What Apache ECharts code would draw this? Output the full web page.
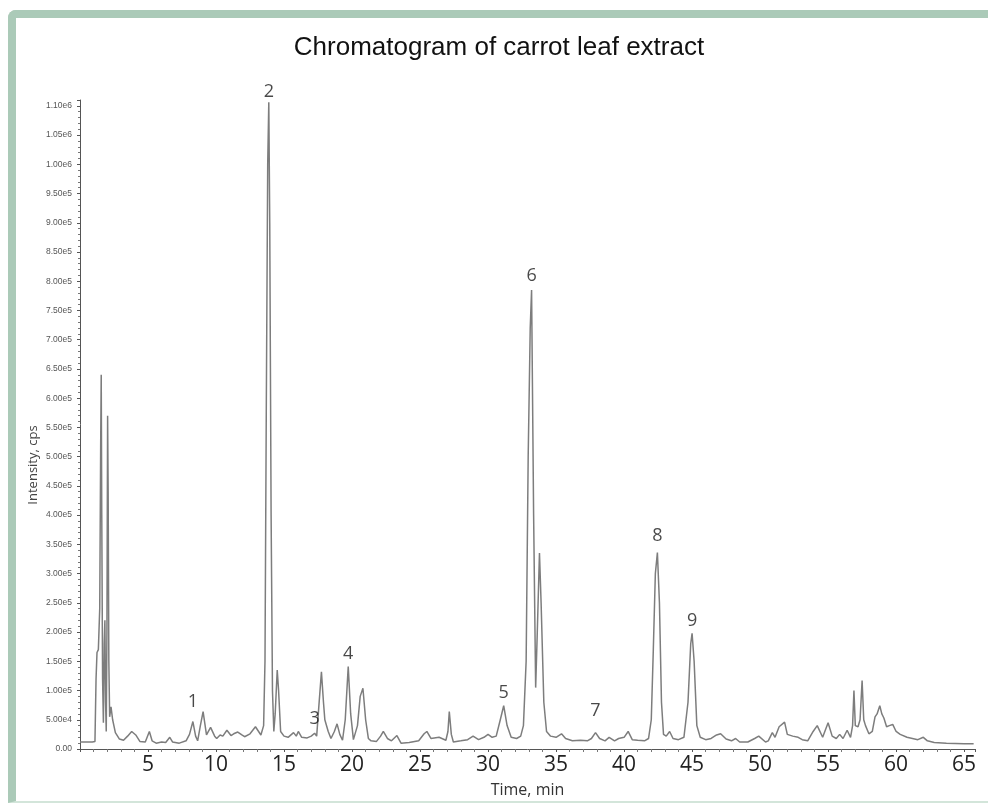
<!DOCTYPE html>
<html>
<head>
<meta charset="utf-8">
<title>Chromatogram of carrot leaf extract</title>
<script src="https://cdn.jsdelivr.net/npm/echarts@6/dist/echarts.min.js"></script>
<style>
  html, body { margin: 0; padding: 0; background: #ffffff; }
  #frame {
    position: absolute; left: 8px; top: 10px; width: 980px; height: 793px;
    border-left: 8px solid #abcab8; border-top: 8px solid #abcab8;
    border-bottom: 2px solid #d3e5da;
    border-top-left-radius: 8px; box-sizing: border-box;
  }
  #chart { position: absolute; left: 0; top: 0; width: 988px; height: 803px; }
</style>
</head>
<body>
<div id="frame"></div>
<div id="chart"></div>
<script>
// Total ion chromatogram: retention time (min) and intensity (cps)
const timeMin = [
  0.0, 0.9, 1.0, 1.1, 1.18, 1.25, 1.35, 1.45, 1.52, 1.56, 1.60, 1.66, 1.72, 1.78, 1.83, 1.88, 1.93, 1.98,
  2.03, 2.07, 2.12, 2.18, 2.28, 2.40, 2.6, 2.9, 3.2, 3.5, 3.8, 4.1, 4.4, 4.8, 5.1, 5.3, 5.6, 6.0, 6.3,
  6.6, 6.8, 7.3, 7.8, 8.05, 8.3, 8.5, 8.65, 8.85, 9.05, 9.3, 9.6, 9.9, 10.05, 10.3, 10.5, 10.8, 11.1,
  11.3, 11.6, 11.9, 12.1, 12.5, 12.9, 13.3, 13.5, 13.6, 13.7, 13.8, 13.88, 13.95, 14.05, 14.15, 14.25,
  14.35, 14.5, 14.6, 14.75, 15.0, 15.3, 15.7, 15.9, 16.05, 16.3, 16.7, 17.0, 17.25, 17.4, 17.55, 17.75,
  17.9, 18.0, 18.1, 18.25, 18.45, 18.7, 18.9, 19.1, 19.3, 19.5, 19.72, 19.9, 20.1, 20.4, 20.6, 20.8,
  21.0, 21.2, 21.4, 21.8, 22.1, 22.3, 22.6, 22.9, 23.3, 23.6, 24.2, 24.9, 25.3, 25.5, 25.8, 26.4, 26.9,
  27.05, 27.15, 27.3, 27.45, 28.0, 28.5, 28.9, 29.3, 29.7, 30.0, 30.3, 30.6, 30.9, 31.15, 31.4, 31.7,
  32.1, 32.4, 32.6, 32.8, 32.95, 33.1, 33.2, 33.35, 33.5, 33.62, 33.78, 33.9, 34.1, 34.3, 34.6, 35.0,
  35.4, 35.7, 36.2, 36.8, 37.3, 37.6, 37.9, 38.2, 38.6, 38.9, 39.3, 39.6, 40.0, 40.3, 40.6, 41.0, 41.5,
  41.8, 42.0, 42.15, 42.3, 42.45, 42.6, 42.75, 42.9, 43.1, 43.35, 43.6, 44.0, 44.4, 44.7, 44.9, 45.0,
  45.15, 45.35, 45.6, 46.0, 46.4, 46.8, 47.1, 47.5, 47.9, 48.2, 48.5, 49.1, 49.6, 49.9, 50.4, 50.6,
  50.9, 51.1, 51.4, 51.8, 52.0, 52.4, 52.8, 53.1, 53.5, 53.9, 54.2, 54.6, 55.0, 55.3, 55.6, 55.85,
  56.1, 56.4, 56.65, 56.8, 56.9, 57.0, 57.2, 57.35, 57.5, 57.62, 57.75, 58.0, 58.25, 58.45, 58.6, 58.8,
  58.95, 59.1, 59.3, 59.5, 59.75, 60.0, 60.3, 60.8, 61.2, 61.6, 62.0, 62.3, 62.8, 63.7, 65.0, 65.7
];
const intensityCps = [
  12000, 12000, 11000, 13000, 120000, 165000, 170000, 240000, 520000, 640000, 400000, 120000, 45000, 180000, 220000, 80000, 30000, 200000,
  570000, 440000, 150000, 55000, 72000, 50000, 28000, 17000, 15000, 22000, 30000, 24000, 13000, 12000, 30000, 14000, 10000, 12000, 11000,
  20000, 12000, 10000, 14000, 25000, 47000, 22000, 14000, 40000, 64000, 24000, 37000, 22000, 18000, 24000, 22000, 32000, 23000,
  26000, 29000, 24000, 21000, 26000, 38000, 24000, 40000, 150000, 600000, 1000000, 1106000, 900000, 400000, 100000, 30000,
  60000, 135000, 100000, 30000, 22000, 20000, 28000, 22000, 30000, 20000, 19000, 22000, 27000, 22000, 70000, 132000,
  80000, 50000, 42000, 30000, 18000, 30000, 43000, 25000, 15000, 50000, 141000, 60000, 16000, 40000, 90000, 104000,
  50000, 18000, 14000, 13000, 22000, 30000, 18000, 14000, 23000, 10000, 11000, 14000, 26000, 30000, 18000, 20000, 15000,
  30000, 64000, 25000, 12000, 14000, 16000, 22000, 16000, 20000, 25000, 20000, 22000, 50000, 74000, 40000, 20000,
  18000, 22000, 40000, 150000, 500000, 720000, 785000, 400000, 105000, 200000, 335000, 250000, 80000, 30000, 22000, 20000,
  26000, 18000, 14000, 15000, 14000, 18000, 28000, 18000, 14000, 20000, 14000, 18000, 20000, 30000, 16000, 15000, 14000,
  18000, 50000, 170000, 300000, 336000, 250000, 80000, 25000, 22000, 30000, 18000, 16000, 20000, 80000, 180000, 198000,
  150000, 40000, 20000, 16000, 18000, 24000, 26000, 17000, 14000, 18000, 12000, 12000, 18000, 22000, 12000, 14000,
  28000, 20000, 38000, 46000, 25000, 22000, 20000, 16000, 14000, 30000, 40000, 20000, 45000, 22000, 18000, 25000,
  18000, 32000, 20000, 40000, 100000, 40000, 38000, 50000, 117000, 50000, 40000, 26000, 30000, 55000, 60000, 74000,
  60000, 53000, 38000, 40000, 42000, 30000, 25000, 20000, 18000, 16000, 20000, 14000, 11000, 10000, 9000, 9000
];

// Numbered compounds and the retention time of each labelled peak
const peakNames = ['1', '2', '3', '4', '5', '6', '7', '8', '9'];
const peakTimes = [8.3, 13.88, 17.25, 19.72, 31.15, 33.2, 37.9, 42.45, 45.0];

// Axis tick labels
const xTickValues = [5, 10, 15, 20, 25, 30, 35, 40, 45, 50, 55, 60, 65];
const xTickLabels = ['5', '10', '15', '20', '25', '30', '35', '40', '45', '50', '55', '60', '65'];
const yTickValues = [0, 50000, 100000, 150000, 200000, 250000, 300000, 350000, 400000, 450000, 500000, 550000,
  600000, 650000, 700000, 750000, 800000, 850000, 900000, 950000, 1000000, 1050000, 1100000];
const yTickLabels = ['0.00', '5.00e4', '1.00e5', '1.50e5', '2.00e5', '2.50e5', '3.00e5', '3.50e5', '4.00e5',
  '4.50e5', '5.00e5', '5.50e5', '6.00e5', '6.50e5', '7.00e5', '7.50e5', '8.00e5', '8.50e5', '9.00e5',
  '9.50e5', '1.00e6', '1.05e6', '1.10e6'];

const trace = timeMin.map((t, i) => [t, intensityCps[i]]);

// Each peak number sits on the apex of its peak in the trace
const labelGap = [10, 1, 5, 3, 3, 5, 12, 7, 3];
const peakPoints = peakNames.map((name, k) => {
  const i = timeMin.indexOf(peakTimes[k]);
  return {
    name: name,
    value: [timeMin[i], intensityCps[i]],
    label: { distance: labelGap[k] }
  };
});

function lookup(values, labels, v) {
  for (let i = 0; i < values.length; i++) {
    if (Math.abs(values[i] - v) < 1e-6) return labels[i];
  }
  return '';
}

const chart = echarts.init(document.getElementById('chart'), null, { renderer: 'canvas' });
chart.setOption({
  animation: false,
  backgroundColor: 'transparent',
  title: {
    text: 'Chromatogram of carrot leaf extract',
    left: 494, top: 30, textAlign: 'center',
    textStyle: { fontFamily: 'Liberation Sans', fontSize: 26, fontWeight: 'normal', color: '#111' }
  },
  grid: { left: 80, right: 13, top: 100, bottom: 54 },
  xAxis: {
    type: 'value', min: 0, max: 65.8, interval: 5,
    name: 'Time, min', nameLocation: 'middle', nameGap: 33,
    nameTextStyle: { fontFamily: 'Open Sans', fontSize: 16, color: '#333' },
    axisLine: { lineStyle: { color: '#555', width: 1 } },
    axisTick: { show: true, length: 3, lineStyle: { color: '#555' } },
    minorTick: { show: true, splitNumber: 5, length: 3, lineStyle: { color: '#777' } },
    splitLine: { show: false },
    axisLabel: {
      showMinLabel: false, showMaxLabel: false, margin: 6,
      fontFamily: 'Open Sans', fontSize: 21, color: '#222',
      formatter: v => lookup(xTickValues, xTickLabels, v)
    }
  },
  yAxis: {
    type: 'value', min: 0, max: 1110000, interval: 50000,
    axisLine: { show: true, lineStyle: { color: '#555', width: 1 } },
    axisTick: { show: true, length: 3, lineStyle: { color: '#555' } },
    minorTick: { show: true, splitNumber: 5, length: 2, lineStyle: { color: '#777' } },
    splitLine: { show: false },
    axisLabel: {
      showMaxLabel: false, margin: 8,
      fontFamily: 'Liberation Sans', fontSize: 8.5, color: '#555',
      formatter: v => lookup(yTickValues, yTickLabels, v)
    }
  },
  graphic: [{
    type: 'text', x: 33, y: 465, rotation: Math.PI / 2,
    style: {
      text: 'Intensity, cps', fontFamily: 'Open Sans', fontSize: 13, fill: '#444',
      align: 'center', verticalAlign: 'middle'
    }
  }],
  series: [
    {
      type: 'line', data: trace, symbol: 'none', smooth: false,
      lineStyle: { color: '#7d7d7d', width: 1.5 }, z: 2
    },
    {
      type: 'scatter', data: peakPoints, symbolSize: 1,
      itemStyle: { color: 'rgba(0,0,0,0)' }, z: 3,
      label: {
        show: true, position: 'top', formatter: p => p.name,
        fontFamily: 'Open Sans', fontSize: 18, color: '#1a1a1a'
      }
    }
  ]
});
</script>
</body>
</html>
